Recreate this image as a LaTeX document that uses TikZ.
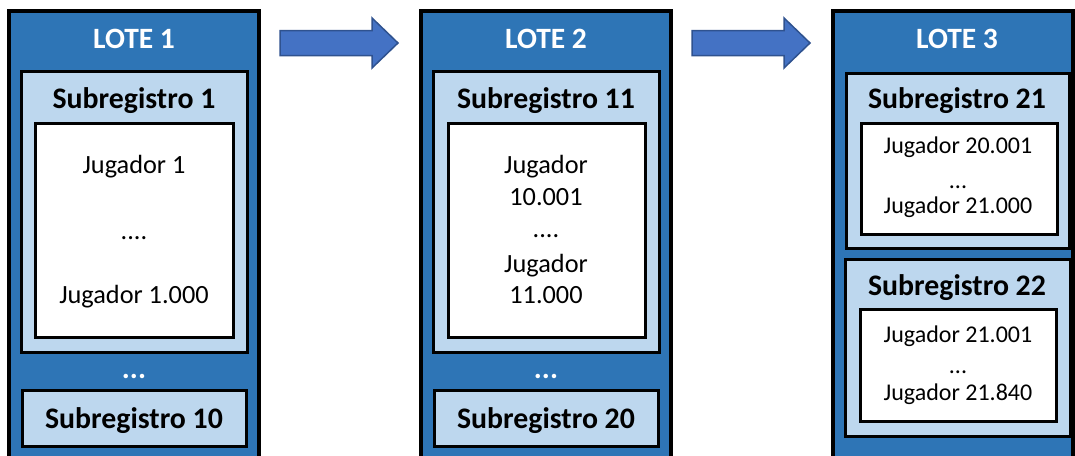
\documentclass[tikz,border=0pt]{standalone}
\usepackage{fontspec}
\setmainfont{Carlito}
\definecolor{lotefill}{HTML}{2E75B6}
\definecolor{subfill}{HTML}{BDD7EE}
\definecolor{arrfill}{HTML}{4472C4}
\definecolor{arrline}{HTML}{2F528F}
\tikzset{
  lotebox/.style={draw=black, line width=4pt, fill=lotefill},
  subbox/.style={draw=black, line width=3pt, fill=subfill},
  jugbox/.style={draw=black, line width=3pt, fill=white},
  txt/.style={anchor=base, inner sep=0pt},
  lotetxt/.style={txt, text=white, font=\fontsize{29.5}{33}\selectfont\bfseries},
  subtxt/.style={txt, font=\fontsize{29.8}{33}\selectfont\bfseries},
  jugtxt/.style={txt, font=\fontsize{26.3}{30}\selectfont},
  jugsmall/.style={txt, font=\fontsize{24}{28}\selectfont},
  dotstxt/.style={txt, text=white, font=\fontsize{30}{33}\selectfont\bfseries},
  blockarrow/.style={draw=arrline, line width=1.5pt, fill=arrfill, line join=miter}
}
\begin{document}
\begin{tikzpicture}[x=1pt,y=-1pt]
\useasboundingbox (0,0) rectangle (1075,455);
% ---------- LOTE 1 ----------
\draw[lotebox] (9,11) rectangle (259,480);
\node[lotetxt] (l1) at (134,48) {LOTE 1};
\draw[subbox] (21,71) rectangle (247,352);
\node[subtxt] (s1) at (134,108) {Subregistro 1};
\draw[jugbox] (35,123) rectangle (233,337);
\node[jugtxt] (j1a) at (134,173) {Jugador 1};
\node[jugtxt] (j1b) at (134,239) {....};
\node[jugtxt] (j1c) at (134,303) {Jugador 1.000};
\node[dotstxt] (d1) at (134,378) {...};
\draw[subbox] (22,390) rectangle (246,446);
\node[subtxt] (s10) at (134,428) {Subregistro 10};
% ---------- LOTE 2 ----------
\draw[lotebox] (421,11) rectangle (671,480);
\node[lotetxt] (l2) at (546,48) {LOTE 2};
\draw[subbox] (433,71) rectangle (659,352);
\node[subtxt] (s11) at (546,108) {Subregistro 11};
\draw[jugbox] (448,123) rectangle (645,337);
\node[jugtxt] (j2a) at (546,173) {Jugador};
\node[jugtxt] (j2b) at (546,205) {10.001};
\node[jugtxt] (j2c) at (546,237) {....};
\node[jugtxt] (j2d) at (546,272) {Jugador};
\node[jugtxt] (j2e) at (546,303) {11.000};
\node[dotstxt] (d2) at (546,378) {...};
\draw[subbox] (434,390) rectangle (658,446);
\node[subtxt] (s20) at (546,428) {Subregistro 20};
% ---------- LOTE 3 ----------
\draw[lotebox] (833,11) rectangle (1073,480);
\node[lotetxt] (l3) at (957,48) {LOTE 3};
\draw[subbox] (846,73) rectangle (1069,248);
\node[subtxt] (s21) at (957,108) {Subregistro 21};
\draw[jugbox] (861,123) rectangle (1057,234);
\node[jugsmall] (j3a) at (958,153) {Jugador 20.001};
\node[jugsmall] (j3b) at (958,188) {...};
\node[jugsmall] (j3c) at (958,213) {Jugador 21.000};
\draw[subbox] (845,259) rectangle (1070,436);
\node[subtxt] (s22) at (957,295) {Subregistro 22};
\draw[jugbox] (860,309) rectangle (1056,421);
\node[jugsmall] (j4a) at (958,342) {Jugador 21.001};
\node[jugsmall] (j4b) at (958,373) {...};
\node[jugsmall] (j4c) at (958,400) {Jugador 21.840};
% ---------- block arrows ----------
\coordinate (a1) at (280,43);
\coordinate (a2) at (692,43);
\foreach \a in {a1,a2}{
  \draw[blockarrow] (\a) ++(0,-12.5) -- ++(92,0) -- ++(0,-12.5) -- ++(26,25)
    -- ++(-26,25) -- ++(0,-12.5) -- ++(-92,0) -- cycle;
}
\end{tikzpicture}
\end{document}
